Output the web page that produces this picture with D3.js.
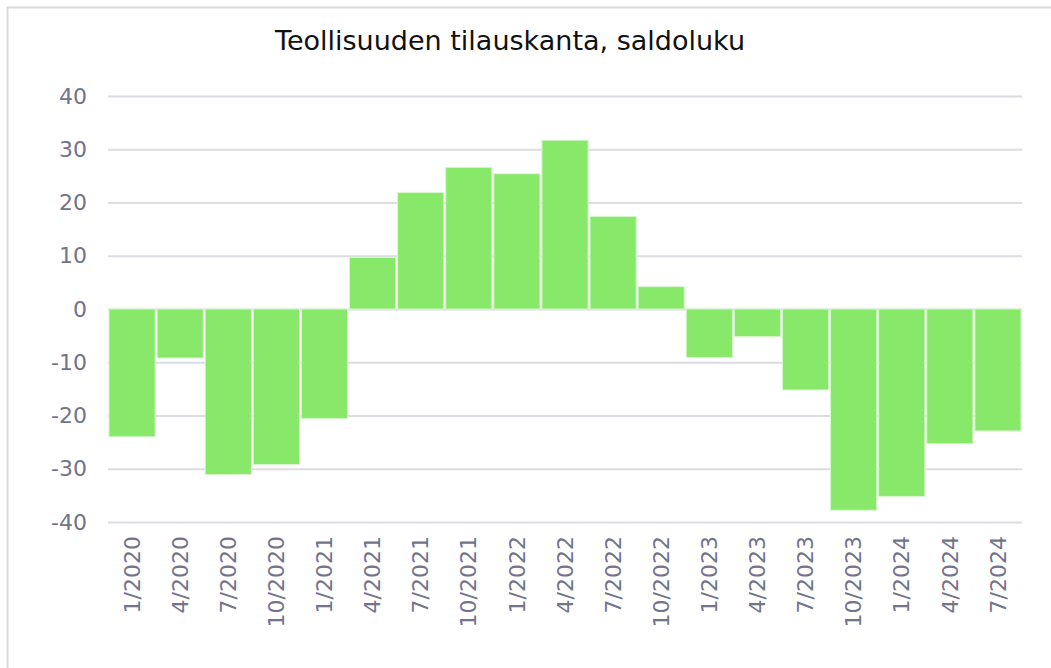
<!DOCTYPE html>
<html>
<head>
<meta charset="utf-8">
<script src="https://cdn.jsdelivr.net/npm/d3@7"></script>
<style>
    body { margin: 0; background: #fff; }
    svg { display: block; font-family: "DejaVu Sans", Verdana, sans-serif; }
</style>
</head>
<body>
<div id="chart"></div>
<script>
// -----------------------------
// data
// -----------------------------

const quarters = ['1/2020', '4/2020', '7/2020', '10/2020', '1/2021', '4/2021', '7/2021',
    '10/2021', '1/2022', '4/2022', '7/2022', '10/2022', '1/2023', '4/2023', '7/2023',
    '10/2023', '1/2024', '4/2024', '7/2024']
const saldo = [-24.0, -9.2, -31.1, -29.2, -20.6, 9.7, 21.9, 26.6, 25.4, 31.7, 17.4, 4.2,
    -9.1, -5.2, -15.2, -37.8, -35.2, -25.3, -22.9]
const yTicks = [-40, -30, -20, -10, 0, 10, 20, 30, 40]
const title = 'Teollisuuden tilauskanta, saldoluku'

// -----------------------------
// layout
// -----------------------------

const w = 1051
const h = 668
const plot = {left: 108, right: 1022, top: 96, bottom: 522}
const font = '"DejaVu Sans", Verdana, sans-serif'
const colours = {
    bar: '#88e86a',
    grid: '#dcdce2',
    label: '#73738a',
    frame: '#dadada'
}

const svg = d3.select('#chart')
    .append('svg')
    .attr('width', w)
    .attr('height', h)

// outer frame (runs off the right and bottom edges)
svg.append('rect')
    .attr('x', 7.5)
    .attr('y', 7.5)
    .attr('width', w)
    .attr('height', h)
    .attr('fill', 'none')
    .attr('stroke', colours.frame)
    .attr('stroke-width', 2)

const xScale = d3.scaleBand()
    .domain(quarters)
    .range([plot.left, plot.right])
    .paddingInner(0.04)
    .paddingOuter(0.02)

const yScale = d3.scaleLinear()
    .domain([-40, 40])
    .range([plot.bottom, plot.top])

// gridlines + y labels (plain hyphen for negatives)
const yAxis = d3.axisLeft(yScale)
    .tickValues(yTicks)
    .tickFormat(d => String(d))
    .tickSize(-(plot.right - plot.left))
    .tickPadding(21)

svg.append('g')
    .attr('transform', 'translate(' + plot.left + ',0)')
    .call(yAxis)
    .call(g => g.select('.domain').remove())
    .call(g => g.selectAll('line')
        .attr('stroke', colours.grid)
        .attr('stroke-width', 2))
    .call(g => g.selectAll('text')
        .attr('fill', colours.label)
        .attr('font-size', 22)
        .attr('font-family', font))

// bars
svg.append('g')
    .selectAll('rect.bar')
    .data(saldo)
    .enter()
    .append('rect')
    .attr('class', 'bar')
    .attr('x', (d, i) => xScale(quarters[i]))
    .attr('width', xScale.bandwidth())
    .attr('y', d => yScale(Math.max(0, d)))
    .attr('height', d => Math.abs(yScale(d) - yScale(0)))
    .attr('fill', colours.bar)
    .attr('stroke', '#d8f7cf')
    .attr('stroke-width', 1)

// x labels, rotated
const xAxis = d3.axisBottom(xScale)
    .tickSize(0)
    .tickPadding(0)

svg.append('g')
    .attr('transform', 'translate(0,' + plot.bottom + ')')
    .call(xAxis)
    .call(g => g.select('.domain').remove())
    .call(g => g.selectAll('text')
        .attr('fill', colours.label)
        .attr('font-size', 22)
        .attr('font-family', font)
        .attr('text-anchor', 'end')
        .attr('dy', '0.35em')
        .attr('transform', 'translate(0,14) rotate(-90)'))

// title
svg.append('text')
    .attr('x', 510)
    .attr('y', 50)
    .attr('text-anchor', 'middle')
    .attr('font-size', 27)
    .attr('fill', '#111')
    .text(title)
</script>
</body>
</html>
